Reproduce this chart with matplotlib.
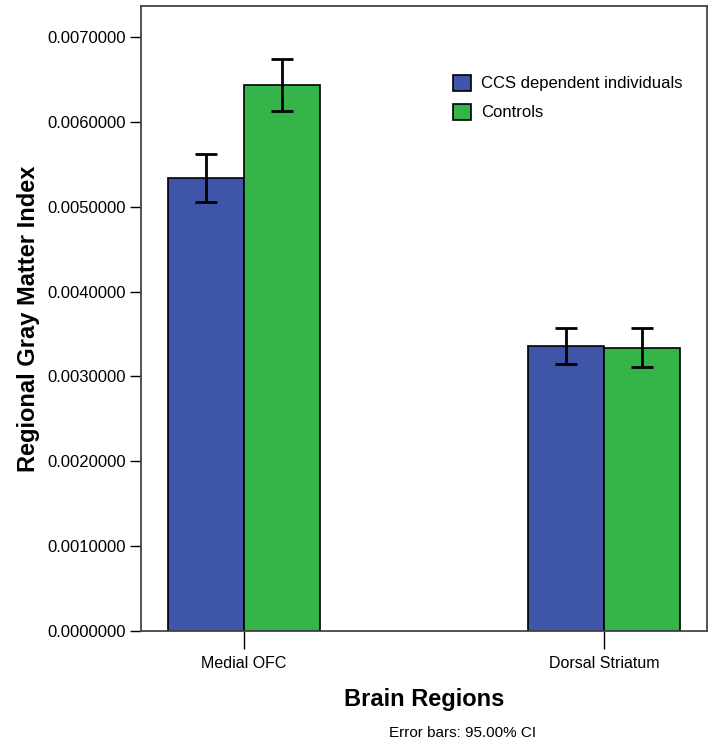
import matplotlib
matplotlib.use("Agg")
import matplotlib.pyplot as plt
from matplotlib.ticker import FormatStrFormatter
import numpy as np

plt.rcParams['font.family'] = ['Liberation Sans', 'DejaVu Sans']

regions = ["Medial OFC", "Dorsal Striatum"]
groups = ["CCS dependent individuals", "Controls"]
means_ccs = [0.005338, 0.003358]
means_ctrl = [0.006434, 0.003335]
ci_low_ccs = [0.005055, 0.003146]
ci_high_ccs = [0.005620, 0.003570]
ci_low_ctrl = [0.006130, 0.003110]
ci_high_ctrl = [0.006740, 0.003570]
yticks = [0.0, 0.001, 0.002, 0.003, 0.004, 0.005, 0.006, 0.007]

colors = ["#3F56A8", "#35B44A"]

fig = plt.figure(figsize=(7.14, 7.46), dpi=100)
ax = fig.add_axes([141/714, 115/746, 566/714, 625/746])

x = np.arange(len(regions))
w = 0.21
series = [(means_ccs, ci_low_ccs, ci_high_ccs), (means_ctrl, ci_low_ctrl, ci_high_ctrl)]
for i, (m, lo, hi) in enumerate(series):
    pos = x + (i - 0.5) * w
    m = np.array(m); lo = np.array(lo); hi = np.array(hi)
    ax.bar(pos, m, width=w, color=colors[i], edgecolor="black", linewidth=1.2,
           label=groups[i], zorder=2)
    ax.errorbar(pos, m, yerr=[m - lo, hi - m], fmt="none", ecolor="black",
                elinewidth=2, capsize=8, capthick=2, zorder=3)

ax.set_xlim(-0.286, 1.286)
ax.set_ylim(0, 0.007365)
ax.set_yticks(yticks)
ax.yaxis.set_major_formatter(FormatStrFormatter("%.7f"))
ax.set_xticks(x)
ax.set_xticklabels(regions)
ax.tick_params(axis="y", direction="out", length=8, width=1, labelsize=12, pad=3)
ax.tick_params(axis="x", direction="out", length=13, width=1, labelsize=11.5, pad=5)
for s in ax.spines.values():
    s.set_linewidth(1.3)
    s.set_color("#444444")

ax.set_ylabel("Regional Gray Matter Index", fontsize=17, fontweight="bold", labelpad=5)
ax.set_xlabel("Brain Regions", fontsize=17, fontweight="bold", labelpad=12)

leg = ax.legend(loc="upper left", bbox_to_anchor=(305/566, 1 - 62/625), frameon=False,
                fontsize=12, handlelength=1.1, handleheight=1.1, labelspacing=0.75,
                handletextpad=0.6, borderaxespad=0)

fig.text(463/714, 1 - 733/746, "Error bars: 95.00% CI", ha="center", va="center", fontsize=11)

fig.savefig("out.png", dpi=100)
